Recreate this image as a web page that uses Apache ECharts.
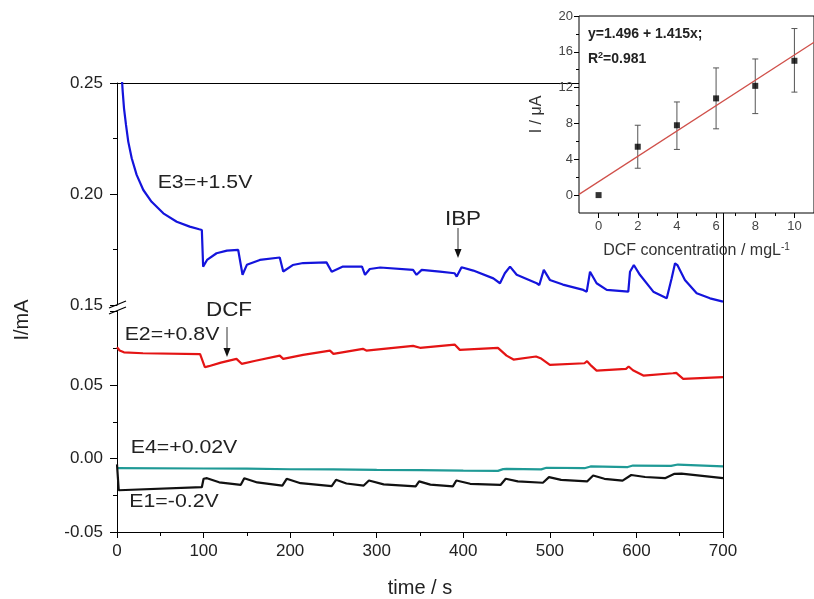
<!DOCTYPE html>
<html><head><meta charset="utf-8">
<script src="https://cdn.jsdelivr.net/npm/echarts@6/dist/echarts.min.js"></script>
<style>html,body{margin:0;padding:0;background:#fff}#c{width:814px;height:599px}</style>
</head><body><div id="c"></div>
<script>
// ---------- data ----------
const timeMin = 0, timeMax = 700;
// E3 = +1.5 V (upper panel)
const e3Data = [[0,0.330],[2,0.290],[4,0.265],[5.4,0.2536],[6.6,0.2461],[8.1,0.2386],[10.4,0.2311],[13,0.2236],[17,0.2161],[22.7,0.2086],[30.4,0.2018],
 [40,0.1965],[53.5,0.1913],[69,0.1875],[84,0.1853],[95,0.1841],[98,0.1838],
 [99.5,0.1673],[104,0.1703],[115,0.1733],[127,0.1745],[140,0.1748],[141.5,0.1745],[145,0.1636],[150,0.1681],[165,0.1703],[188,0.1714],
 [192,0.1651],[203,0.1680],[215,0.1689],[242,0.1692],[248,0.1650],[261,0.1673],[283,0.1673],[286.5,0.1636],[292,0.1662],[304,0.1669],
 [342,0.1658],[346,0.1636],[352,0.1658],[373,0.1650],[390,0.1643],[392.4,0.1628],[398,0.1670],[411.6,0.1655],[434.7,0.1620],[442.4,0.1598],
 [448,0.1643],[454,0.1673],[461.7,0.1636],[484.8,0.1598],[487.8,0.1590],[493,0.1658],[500,0.1613],[515,0.1592],[538.6,0.1568],[542.6,0.1560],
 [546.4,0.1650],[554,0.1598],[565.7,0.1568],[590.6,0.1560],[592.6,0.1650],[597,0.1680],[604,0.1636],[619.5,0.1560],[635,0.1530],
 [640.7,0.1620],[644.6,0.1688],[647.3,0.1680],[649.6,0.1688],[656,0.1613],[669.6,0.1553],[685,0.1530],[700,0.1515]];
// E2 = +0.8 V
const e2Data = [[0,0.0757],[3,0.0735],[8,0.0722],[30,0.0716],[96,0.0710],[101.5,0.0621],[106,0.0628],[120,0.0652],[138,0.0678],[140,0.0680],
 [144,0.0644],[160,0.0665],[188,0.0700],[192,0.0678],[215,0.0705],[246,0.0734],[250,0.0712],[284,0.0746],[288,0.0734],[342,0.0766],[350,0.0753],
 [390,0.0775],[396,0.0739],[440,0.0753],[450,0.0700],[458,0.0673],[484,0.0694],[490,0.0680],[500,0.0637],[540,0.0648],[543,0.0662],[548,0.0630],
 [554,0.0598],[588,0.0610],[591,0.0626],[596,0.0600],[608,0.0564],[642,0.0580],[646,0.0582],[654,0.0542],[700,0.0553]];
// E4 = +0.02 V
const e4Data = [[0,-0.0066],[100,-0.0068],[150,-0.0069],[200,-0.0073],[250,-0.0074],[300,-0.0077],[350,-0.0079],[400,-0.0082],[440,-0.0084],
 [446,-0.0072],[450,-0.0070],[490,-0.0074],[496,-0.0063],[540,-0.0066],[547,-0.0054],[590,-0.0058],[596,-0.0048],[640,-0.0050],[648,-0.0041],[700,-0.0054]];
// E1 = -0.2 V
const e1Data = [[0,-0.004],[2,-0.0216],[98,-0.0195],[100,-0.0138],[104,-0.0134],[118,-0.0162],[143,-0.0179],[147,-0.0134],[162,-0.0163],[191,-0.0184],
 [196,-0.0138],[212,-0.0168],[248,-0.0188],[253,-0.0145],[265,-0.0170],[285,-0.0184],[291,-0.0150],[308,-0.0176],[345,-0.0190],[349,-0.0156],
 [362,-0.0178],[388,-0.0190],[392,-0.0150],[408,-0.0172],[443,-0.0180],[449,-0.0138],[463,-0.0156],[492,-0.0165],[499,-0.0127],[513,-0.0145],
 [543,-0.0156],[550,-0.0116],[563,-0.0138],[584,-0.0150],[594,-0.0112],[610,-0.0126],[633,-0.0134],[644,-0.0104],[652,-0.0103],[700,-0.0134]];
// Inset: calibration
const concX = [0, 2, 4, 6, 8, 10];
const concY = [0.0, 5.4, 7.8, 10.8, 12.2, 15.0];
const errLow = [0.0, 3.0, 5.1, 7.4, 9.1, 11.5];
const errHigh = [0.0, 7.8, 10.4, 14.2, 15.2, 18.6];
const fitLine = [[-1, 0.08], [11, 17.06]];
const insetXMajor = [0, 2, 4, 6, 8, 10];
const insetXMinor = [1, 3, 5, 7, 9];
const insetYMajor = [0, 4, 8, 12, 16, 20];
const insetYMinor = [2, 6, 10, 14, 18];

// ---------- chart ----------
const FONT = 'Liberation Sans, Arial, Helvetica, sans-serif';
const chart = echarts.init(document.getElementById('c'), null, {renderer: 'canvas'});
const black = '#000';
const lab = {color: '#222', fontSize: 17, fontFamily: FONT};
const lineOnly = {show: true, onZero: false, lineStyle: {color: black, width: 1}};
const noLine = {show: false, onZero: false};

const scatterData = concX.map((x, i) => [x, concY[i]]);
const errData = concX.map((x, i) => [x, errLow[i], errHigh[i]]);

function txt(x, y, s, size, extra) {
  return Object.assign({type: 'text', x: x, y: y, scaleX: 1.12,
    style: {text: s, fontSize: size, fontFamily: FONT, fill: '#222', align: 'center', verticalAlign: 'middle'}}, extra || {});
}

const option = {
  animation: false,
  backgroundColor: '#fff',
  grid: [
    {left: 117, top: 83, width: 606, height: 222},
    {left: 117, top: 311.5, width: 606, height: 220.5},
    {left: 579, top: 16, width: 241, height: 197, show: true, backgroundColor: '#fff', borderColor: '#000', borderWidth: 1, z: 5}
  ],
  xAxis: [
    {gridIndex: 0, type: 'value', position: 'top', min: timeMin, max: timeMax, axisLine: lineOnly, axisTick: {show: false}, axisLabel: {show: false}, splitLine: {show: false}},
    {gridIndex: 1, type: 'value', position: 'bottom', min: timeMin, max: timeMax, interval: 100,
      axisLine: lineOnly, axisTick: {show: true, length: 6, lineStyle: {color: black}},
      minorTick: {show: true, splitNumber: 2, length: 4, lineStyle: {color: black}},
      axisLabel: Object.assign({margin: 11}, lab), splitLine: {show: false},
      name: 'time / s', nameLocation: 'middle', nameGap: 46, nameTextStyle: {fontSize: 20, fontFamily: FONT, color: '#222'}},
    {gridIndex: 2, type: 'value', position: 'bottom', min: -1, max: 11, z: 6,
      axisLine: noLine, axisTick: {show: true, length: 5, customValues: insetXMajor, lineStyle: {color: black}},
      axisLabel: {customValues: insetXMajor, margin: 7, fontSize: 13, color: '#444', fontFamily: FONT}, splitLine: {show: false},
      name: 'DCF concentration / mgL{sup|-1}', nameLocation: 'middle', nameGap: 29,
      nameTextStyle: {fontSize: 16, fontFamily: FONT, color: '#333', rich: {sup: {fontSize: 10, fontFamily: FONT, color: '#333', verticalAlign: 'top', padding: [0,0,8,0]}}}},
    {gridIndex: 2, type: 'value', position: 'bottom', min: -1, max: 11, z: 6,
      axisLine: noLine, axisTick: {show: true, length: 3, customValues: insetXMinor, lineStyle: {color: black}},
      axisLabel: {show: false}, splitLine: {show: false}}
  ],
  yAxis: [
    {gridIndex: 0, type: 'value', position: 'left', min: 0.15, max: 0.25, interval: 0.05,
      axisLine: lineOnly, axisTick: {show: true, length: 7, lineStyle: {color: black}},
      minorTick: {show: true, splitNumber: 2, length: 4, lineStyle: {color: black}},
      axisLabel: Object.assign({margin: 14, formatter: v => v.toFixed(2)}, lab), splitLine: {show: false}},
    {gridIndex: 0, type: 'value', position: 'right', min: 0.15, max: 0.25, axisLine: lineOnly, axisTick: {show: false}, axisLabel: {show: false}, splitLine: {show: false}},
    {gridIndex: 1, type: 'value', position: 'left', min: -0.05, max: 0.10, interval: 0.05,
      axisLine: lineOnly, axisTick: {show: true, length: 7, lineStyle: {color: black}},
      minorTick: {show: true, splitNumber: 2, length: 4, lineStyle: {color: black}},
      axisLabel: Object.assign({margin: 14, showMaxLabel: false, formatter: v => v.toFixed(2)}, lab), splitLine: {show: false}},
    {gridIndex: 1, type: 'value', position: 'right', min: -0.05, max: 0.10, axisLine: lineOnly, axisTick: {show: false}, axisLabel: {show: false}, splitLine: {show: false}},
    {gridIndex: 2, type: 'value', position: 'left', min: -2, max: 20, z: 6,
      axisLine: noLine, axisTick: {show: true, length: 5, customValues: insetYMajor, lineStyle: {color: black}},
      axisLabel: {customValues: insetYMajor, margin: 6, fontSize: 13, color: '#444', fontFamily: FONT}, splitLine: {show: false},
      name: 'I / \u03BCA', nameLocation: 'middle', nameGap: 34, nameTextStyle: {fontSize: 16, fontFamily: FONT, color: '#333'}},
    {gridIndex: 2, type: 'value', position: 'left', offset: 0, min: -2, max: 20, z: 6,
      axisLine: noLine, axisTick: {show: true, length: 3, customValues: insetYMinor, lineStyle: {color: black}},
      axisLabel: {show: false}, splitLine: {show: false}}
  ],
  series: [
    {name: 'E3', type: 'line', xAxisIndex: 0, yAxisIndex: 0, data: e3Data, showSymbol: false, clip: true, lineStyle: {color: '#1414dc', width: 2.2}, itemStyle: {color: '#1414dc'}},
    {name: 'E2', type: 'line', xAxisIndex: 1, yAxisIndex: 2, data: e2Data, showSymbol: false, clip: true, lineStyle: {color: '#e41414', width: 2.2}, itemStyle: {color: '#e41414'}},
    {name: 'E4', type: 'line', xAxisIndex: 1, yAxisIndex: 2, data: e4Data, showSymbol: false, clip: true, lineStyle: {color: '#1f9a96', width: 2.2}, itemStyle: {color: '#1f9a96'}},
    {name: 'E1', type: 'line', xAxisIndex: 1, yAxisIndex: 2, data: e1Data, showSymbol: false, clip: true, lineStyle: {color: '#111', width: 2.2}, itemStyle: {color: '#111'}},
    {name: 'fit', type: 'line', xAxisIndex: 2, yAxisIndex: 4, data: fitLine, showSymbol: false, clip: true, z: 7, lineStyle: {color: '#d0504a', width: 1.2}},
    {name: 'err', type: 'custom', xAxisIndex: 2, yAxisIndex: 4, data: errData, z: 7,
      renderItem: function (params, api) {
        const x = api.value(0), lo = api.value(1), hi = api.value(2);
        if (hi === lo) return null;
        const p1 = api.coord([x, lo]), p2 = api.coord([x, hi]);
        const w = 3;
        const st = {stroke: '#555', lineWidth: 1};
        return {type: 'group', children: [
          {type: 'line', shape: {x1: p1[0], y1: p1[1], x2: p2[0], y2: p2[1]}, style: st},
          {type: 'line', shape: {x1: p1[0]-w, y1: p1[1], x2: p1[0]+w, y2: p1[1]}, style: st},
          {type: 'line', shape: {x1: p2[0]-w, y1: p2[1], x2: p2[0]+w, y2: p2[1]}, style: st}
        ]};
      }},
    {name: 'points', type: 'scatter', xAxisIndex: 2, yAxisIndex: 4, data: scatterData, symbol: 'rect', symbolSize: 6, z: 8, itemStyle: {color: '#000'}}
  ],
  graphic: [
    // break marks on left axis
    {type: 'line', shape: {x1: 109, y1: 308, x2: 126, y2: 301}, style: {stroke: '#000', lineWidth: 1.2}, z: 10},
    {type: 'line', shape: {x1: 109, y1: 314, x2: 126, y2: 307}, style: {stroke: '#000', lineWidth: 1.2}, z: 10},
    // right border across the break
    {type: 'line', shape: {x1: 723.5, y1: 304, x2: 723.5, y2: 312}, style: {stroke: '#000', lineWidth: 1}, z: 1},
    // arrows
    {type: 'line', shape: {x1: 227, y1: 327, x2: 227, y2: 350}, style: {stroke: '#333', lineWidth: 1}},
    {type: 'polygon', shape: {points: [[223.5, 348], [230.5, 348], [227, 357]]}, style: {fill: '#111'}},
    {type: 'line', shape: {x1: 458, y1: 228, x2: 458, y2: 251}, style: {stroke: '#333', lineWidth: 1}},
    {type: 'polygon', shape: {points: [[454.5, 249], [461.5, 249], [458, 258]]}, style: {fill: '#111'}},
    // annotations
    txt(205, 183, 'E3=+1.5V', 19),
    txt(229, 310, 'DCF', 20),
    txt(172, 335, 'E2=+0.8V', 19),
    txt(463, 219, 'IBP', 20),
    txt(184, 448, 'E4=+0.02V', 19),
    txt(174, 502, 'E1=-0.2V', 19),
    {type: 'text', x: 22, y: 320, rotation: Math.PI / 2, style: {text: 'I/mA', fontSize: 20, fontFamily: FONT, fill: '#222', align: 'center', verticalAlign: 'middle'}},
    {type: 'text', x: 588, y: 34, z: 20, style: {text: 'y=1.496 + 1.415x;', fontSize: 14, fontWeight: 'bold', fontFamily: FONT, fill: '#222', align: 'left', verticalAlign: 'middle'}},
    {type: 'text', x: 588, y: 59, z: 20, style: {text: 'R{sup|2}=0.981', fontSize: 14, fontWeight: 'bold', fontFamily: FONT, fill: '#222', align: 'left', verticalAlign: 'middle',
      rich: {sup: {fontSize: 9, fontWeight: 'bold', fontFamily: FONT, fill: '#222', verticalAlign: 'top', padding: [0, 0, 7, 0]}}}}
  ]
};
chart.setOption(option);
</script>
</body></html>
